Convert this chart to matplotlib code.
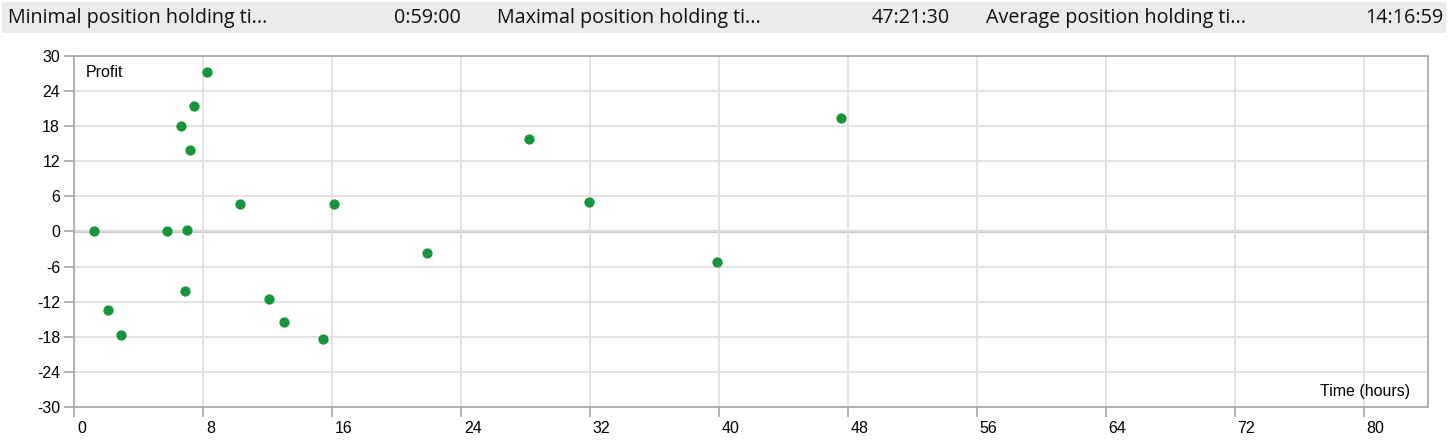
import numpy as np
import matplotlib
matplotlib.use('Agg')
import matplotlib.pyplot as plt
from matplotlib.patches import Rectangle
import matplotlib.transforms as mtransforms

plt.rcParams['axes.unicode_minus'] = False

# holding time (hours) vs profit
hold_hours = [1.24, 2.13, 2.92, 5.77, 6.66, 6.87, 7.03, 7.18, 7.44, 8.23,
              10.28, 12.07, 13.02, 15.46, 16.14, 21.89, 28.22, 31.98, 39.9, 47.6]
profit = [0.1, -13.4, -17.7, 0.0, 18.0, -10.1, 0.25, 13.9, 21.45, 27.3,
          4.65, -11.5, -15.5, -18.3, 4.7, -3.6, 15.8, 5.1, -5.16, 19.35]

stat_labels = ['Minimal position holding ti...', 'Maximal position holding ti...',
               'Average position holding ti...']
stat_values = ['0:59:00', '47:21:30', '14:16:59']

x_ticks = list(range(0, 81, 8))
y_ticks = list(range(-30, 31, 6))

W, H = 1451, 442
fig = plt.figure(figsize=(W / 100, H / 100), dpi=100)

def fx(px):
    return px / W

def fy(py):
    return 1 - py / H

# header strip
fig.add_artist(Rectangle((fx(2), fy(33)), fx(1446) - fx(2), fy(2) - fy(33),
                         transform=fig.transFigure, facecolor='#ebebeb',
                         edgecolor='none', zorder=0))
lab_x = [8, 497, 986]
val_x = [461, 950, 1443]
for i in range(3):
    fig.text(fx(lab_x[i]), fy(18), stat_labels[i], ha='left', va='center',
             fontsize=14.2, family='Open Sans', color='#111111')
    fig.text(fx(val_x[i]), fy(18), stat_values[i], ha='right', va='center',
             fontsize=14.2, family='Open Sans', color='#111111')

ax = fig.add_axes([fx(74), fy(407), fx(1428) - fx(74), fy(56) - fy(407)])
ax.set_xlim(0, 84)
ax.set_ylim(-30, 30)

ax.set_xticks(x_ticks)
ax.set_yticks(y_ticks)
ax.grid(True, color='#dedede', linewidth=1.2, zorder=0)
ax.axhline(0, color='#c8c8c8', linewidth=2.2, zorder=1)
for s in ax.spines.values():
    s.set_color('#a6a6a6')
    s.set_linewidth(1.2)

ax.tick_params(axis='both', colors='#a6a6a6', labelcolor='black', length=7,
               width=1.2, labelsize=11.5)
ax.tick_params(axis='y', pad=3)
ax.tick_params(axis='x', pad=3)
off = mtransforms.ScaledTranslation(3 / 100, 0, fig.dpi_scale_trans)
for lab in ax.get_xticklabels():
    lab.set_horizontalalignment('left')
    lab.set_transform(lab.get_transform() + off)
for lab in ax.get_xticklabels() + ax.get_yticklabels():
    lab.set_family('Liberation Sans')

ax.scatter(hold_hours, profit, s=55, color='#17953a', zorder=3, linewidths=0)

ax.text(0.009, 0.975, 'Profit', transform=ax.transAxes, ha='left', va='top',
        fontsize=11.5, family='Liberation Sans')
ax.text(0.987, 0.022, 'Time (hours)', transform=ax.transAxes, ha='right',
        va='bottom', fontsize=11.5, family='Liberation Sans')

fig.savefig('out.png', dpi=100)
